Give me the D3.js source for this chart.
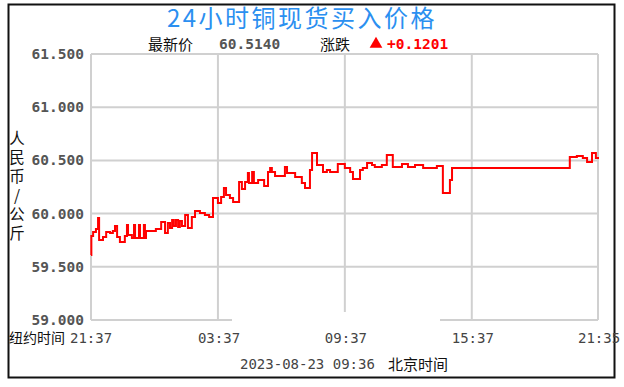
<!DOCTYPE html>
<html lang="zh">
<head>
<meta charset="UTF-8">
<title>24小时铜现货买入价格</title>
<script src="https://cdnjs.cloudflare.com/ajax/libs/d3/7.8.5/d3.min.js"></script>
<style>
  body { margin: 0; background: #fff; }
  .cjk { font-family: "Noto Sans CJK SC", sans-serif; }
  .mono { font-family: "DejaVu Sans Mono", monospace; }
  .vert { writing-mode: vertical-rl; text-orientation: upright; }
</style>
</head>
<body>
<div id="chart"></div>
<script>
// minutes after 21:37 (New York time)
const times = [0,1,6,14,20,23,34,43,54,62,68,74,82,96,102,105,116,122,125,136,
  139,150,153,156,184,199,210,218,224,230,235,241,247,252,258,267,275,286,295,309,
  323,335,346,360,369,377,383,394,403,420,428,437,445,448,457,462,474,491,502,508,
  513,522,550,556,579,598,607,621,627,641,658,669,678,700,720,735,743,763,771,783,
  797,805,825,839,856,882,899,919,942,981,998,1018,1024,1358,1378,1395,1407,1421,1432,1438];
const prices = [59.611,59.789,59.827,59.855,59.959,59.752,59.780,59.827,59.818,59.836,
  59.883,59.780,59.733,59.789,59.893,59.799,59.771,59.893,59.771,59.893,
  59.771,59.893,59.771,59.836,59.855,59.921,59.818,59.912,59.865,59.940,
  59.883,59.940,59.874,59.930,59.883,59.987,59.865,59.968,60.024,60.006,
  59.987,59.968,60.147,60.100,60.156,60.241,60.175,60.147,60.109,60.297,
  60.231,60.297,60.382,60.288,60.391,60.288,60.316,60.259,60.391,60.429,
  60.391,60.353,60.438,60.382,60.344,60.288,60.241,60.410,60.570,60.457,
  60.391,60.410,60.391,60.466,60.429,60.391,60.325,60.410,60.429,60.476,
  60.457,60.438,60.457,60.551,60.438,60.466,60.438,60.457,60.429,60.447,
  60.194,60.316,60.429,60.532,60.541,60.523,60.485,60.570,60.523,60.514];

const yTicks = [59.0, 59.5, 60.0, 60.5, 61.0, 61.5];
const xTicks = [0, 360, 720, 1080, 1438];
const xTickLabels = ["21:37", "03:37", "09:37", "15:37", "21:35"];

const title = "24小时铜现货买入价格";
const yTitle = "人民币/公斤";
const latest = "60.5140";
const change = "+0.1201";
const stamp = "2023-08-23 09:36";

const width = 624, height = 387;
const plot = { left: 91, right: 598, top: 54, bottom: 320 };

const svg = d3.select("#chart").append("svg")
  .attr("width", width)
  .attr("height", height);

// outer frame
svg.append("rect")
  .attr("x", 8.5).attr("y", 4.5)
  .attr("width", 606).attr("height", 373)
  .attr("fill", "#fff")
  .attr("stroke", "#111")
  .attr("stroke-width", 2);

const x = d3.scaleLinear().domain([0, 1438]).range([plot.left, plot.right]);
const y = d3.scaleLinear().domain([59, 61.5]).range([plot.bottom, plot.top]);

// grid
svg.selectAll(".hgrid")
  .data(yTicks)
  .join("line")
  .attr("x1", plot.left).attr("x2", plot.right)
  .attr("y1", d => y(d)).attr("y2", d => y(d))
  .attr("stroke", "#d0d0d0").attr("stroke-width", 2);

svg.selectAll(".vgrid")
  .data(xTicks)
  .join("line")
  .attr("x1", d => x(d)).attr("x2", d => x(d))
  .attr("y1", plot.top).attr("y2", plot.bottom)
  .attr("stroke", "#d0d0d0").attr("stroke-width", 2);

// watermark patch that hides part of the bottom edge
svg.append("rect")
  .attr("x", 232).attr("y", 312)
  .attr("width", 208).attr("height", 14)
  .attr("fill", "#fff");

// price line
const pts = times.map((t, i) => [t, prices[i]]);
svg.append("path")
  .datum(pts)
  .attr("fill", "none")
  .attr("stroke", "#ff0000")
  .attr("stroke-width", 2)
  .attr("d", d3.line()
    .curve(d3.curveStepAfter)
    .x(d => x(d[0]))
    .y(d => y(d[1])));

// y tick labels
svg.selectAll(".ylab")
  .data(yTicks)
  .join("text")
  .attr("class", "mono")
  .attr("x", 84)
  .attr("y", d => y(d) + 5)
  .attr("text-anchor", "end")
  .attr("font-size", 14.5)
  .attr("font-weight", "bold")
  .attr("fill", "#555")
  .text(d => d3.format(".3f")(d));

// x tick labels
svg.selectAll(".xlab")
  .data(xTicks)
  .join("text")
  .attr("class", "mono")
  .attr("x", (d, i) => i === 0 ? 70 : x(d) - 20)
  .attr("y", 343)
  .attr("font-size", 14)
  .attr("fill", "#444")
  .text((d, i) => xTickLabels[i]);

svg.append("text")
  .attr("class", "cjk")
  .attr("x", 9).attr("y", 343)
  .attr("font-size", 14)
  .attr("fill", "#111")
  .text("纽约时间");

// y axis title, vertical
svg.append("text")
  .attr("class", "cjk vert")
  .attr("x", 17)
  .attr("y", 130)
  .attr("font-size", 15.5)
  .attr("letter-spacing", 3.5)
  .attr("fill", "#111")
  .text(yTitle);

// title
svg.append("text")
  .attr("class", "cjk")
  .attr("x", 302).attr("y", 27)
  .attr("text-anchor", "middle")
  .attr("font-size", 24)
  .attr("letter-spacing", 2.5)
  .attr("fill", "#2b8ff0")
  .text(title);

// latest / change line
svg.append("text").attr("class", "cjk")
  .attr("x", 148).attr("y", 50).attr("font-size", 15).attr("fill", "#111")
  .text("最新价");
svg.append("text").attr("class", "mono")
  .attr("x", 219).attr("y", 49).attr("font-size", 14.5).attr("font-weight", "bold")
  .attr("fill", "#555").text(latest);
svg.append("text").attr("class", "cjk")
  .attr("x", 320).attr("y", 50).attr("font-size", 15).attr("fill", "#111")
  .text("涨跌");
svg.append("path")
  .attr("d", d3.symbol().type(d3.symbolTriangle).size(70)())
  .attr("transform", "translate(376,44)")
  .attr("fill", "#ff0000");
svg.append("text").attr("class", "mono")
  .attr("x", 387).attr("y", 49).attr("font-size", 14.5).attr("font-weight", "bold")
  .attr("fill", "#ff0000").text(change);

// bottom stamp
svg.append("text").attr("class", "mono")
  .attr("x", 240).attr("y", 369).attr("font-size", 14).attr("fill", "#444")
  .text(stamp);
svg.append("text").attr("class", "cjk")
  .attr("x", 388).attr("y", 370).attr("font-size", 15).attr("fill", "#111")
  .text("北京时间");
</script>
</body>
</html>
